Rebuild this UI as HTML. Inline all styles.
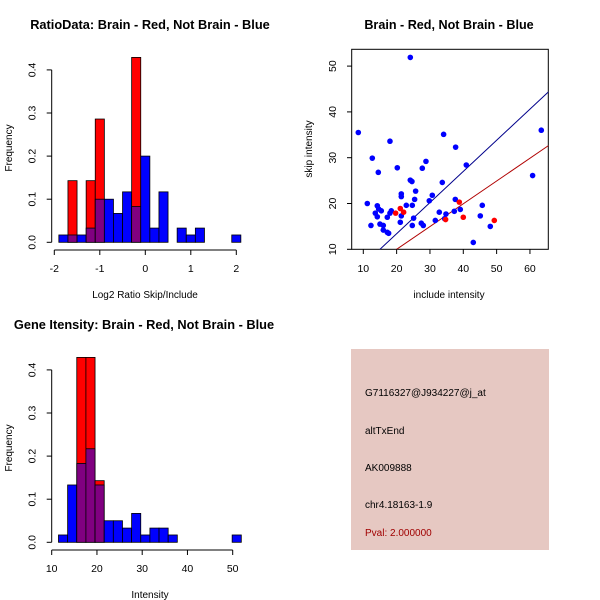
<!DOCTYPE html>
<html><head><meta charset="utf-8"><style>
body{margin:0;background:#fff}
svg{display:block;font-family:"Liberation Sans",sans-serif}
</style></head><body>
<svg id="c" width="600" height="600" xmlns="http://www.w3.org/2000/svg">
<rect x="0" y="0" width="600" height="600" fill="#fff"/>
<text x="150" y="29" text-anchor="middle" font-size="12.8" font-weight="bold">RatioData: Brain - Red, Not Brain - Blue</text>
<text x="449" y="29" text-anchor="middle" font-size="12.6" font-weight="bold">Brain - Red, Not Brain - Blue</text>
<text x="144" y="329" text-anchor="middle" font-size="12.8" font-weight="bold">Gene Itensity: Brain - Red, Not Brain - Blue</text>
<text x="145" y="298" text-anchor="middle" font-size="10">Log2 Ratio Skip/Include</text>
<text x="449" y="298" text-anchor="middle" font-size="10">include intensity</text>
<text x="150" y="598" text-anchor="middle" font-size="10">Intensity</text>
<text transform="translate(12,148) rotate(-90)" text-anchor="middle" font-size="10">Frequency</text>
<text transform="translate(312,149) rotate(-90)" text-anchor="middle" font-size="10">skip intensity</text>
<text transform="translate(12,448) rotate(-90)" text-anchor="middle" font-size="10">Frequency</text>
<rect x="351" y="349" width="198" height="201" fill="#e6c8c2"/>
<text x="365" y="396" font-size="10">G7116327@J934227@j_at</text>
<text x="365" y="434" font-size="10">altTxEnd</text>
<text x="365" y="471" font-size="10">AK009888</text>
<text x="365" y="508" font-size="10">chr4.18163-1.9</text>
<text x="365" y="536" font-size="10" fill="#a00000">Pval: 2.000000</text>
<g id="g"></g>
</svg>
<script>
// Ratio histogram data (bins width 0.2 starting -1.9)
const ratioStart = -1.9, ratioWidth = 0.2;
const ratioBlue = [0.017,0.017,0.017,0.033,0.1,0.1,0.067,0.117,0.083,0.2,0.033,0.117,0,0.033,0.017,0.033,0,0,0,0.017];
const ratioRed  = [0,0.143,0,0.143,0.286,0,0,0,0.429,0,0,0,0,0,0,0,0,0,0,0];
const ratioXTicks = [-2,-1,0,1,2];
const freqTicks = [0,0.1,0.2,0.3,0.4];
// Intensity histogram
const intStart = 11.5, intWidth = 2.02;
const intBlue = [0.017,0.133,0.183,0.217,0.133,0.05,0.05,0.033,0.067,0.017,0.033,0.033,0.017,0,0,0,0,0,0,0.017];
const intRed  = [0,0,0.429,0.429,0.143,0,0,0,0,0,0,0,0,0,0,0,0,0,0,0];
const intXTicks = [10,20,30,40,50];
// Scatter
const blueX = [8.5,11.2,12.3,12.7,13.6,14.2,14.5,14.2,14.6,15,15.4,16,16,17.2,17.6,17.2,18,18.4,18,20.2,21.1,21.4,21.4,21.4,22.9,24.1,24.1,24.6,24.7,24.7,25.1,25.4,25.7,27.4,27.7,28,28.8,29.8,30.7,31.6,32.8,33.7,34.1,34.8,34.4,37.3,37.7,37.6,39.1,40.9,43,45.1,45.7,48.1,60.8,63.4];
const blueY = [35.5,20,15.2,29.9,17.9,19.5,26.8,17.1,18.8,15.5,18.4,15.2,14.2,13.7,13.5,17,33.6,18.4,17.9,27.8,15.9,22.1,21.5,17.3,19.6,51.9,25.1,24.8,19.6,15.2,16.8,20.9,22.7,15.7,27.7,15.2,29.2,20.6,21.8,16.3,18.1,24.6,35.1,17.7,16.7,18.3,32.3,20.9,18.7,28.4,11.5,17.3,19.6,15,26.1,36];
const redX = [19.7,21.1,22.1,34.7,38.8,40,49.3];
const redY = [17.9,18.9,18.1,16.5,20.3,17,16.3];
const blueFit = [-0.2, 0.68];   // intercept, slope
const redFit = [0.06, 0.497];
const scXTicks = [10,20,30,40,50,60];
const scYTicks = [10,20,30,40,50];

const NS="http://www.w3.org/2000/svg", G=document.getElementById('g');
function mk(t,a,p){const e=document.createElementNS(NS,t);for(const k in a)e.setAttribute(k,a[k]);(p||G).appendChild(e);return e;}

function hist(name,start,w,blue,red,xticks,x0px,xPer,y0px,yPer,axisY,yAxisX){
  const X=v=>x0px+v*xPer, Y=v=>y0px-v*yPer;
  const g=mk('g',{});
  
  
  blue.forEach((b,i)=>{
    const r=red[i], a=start+i*w, L=X(a), R=X(a+w);
    const mn=Math.min(b,r), mx=Math.max(b,r);
    if(mx<=0)return;
    const col=b>=r?'#0000ff':'#ff0000';
    const e=mk('rect',{x:L,y:Y(mx),width:R-L,height:Y(0)-Y(mx),fill:col,stroke:'#000','stroke-width':0.8},g);
    
    
    if(mn>0){const p=mk('rect',{x:L,y:Y(mn),width:R-L,height:Y(0)-Y(mn),fill:'#800080',stroke:'#000','stroke-width':0.8},g);
      
      }
  });
  mk('line',{x1:X(xticks[0]),x2:X(xticks[xticks.length-1]),y1:axisY,y2:axisY,stroke:'#000'},g);
  xticks.forEach(t=>{mk('line',{x1:X(t),x2:X(t),y1:axisY,y2:axisY+5,stroke:'#000'},g);
    const tx=mk('text',{x:X(t),y:axisY+22,'text-anchor':'middle','font-size':10.5},g);tx.textContent=t;
    
    });
  mk('line',{x1:yAxisX,x2:yAxisX,y1:Y(0),y2:Y(0.4),stroke:'#000'},g);
  freqTicks.forEach(t=>{mk('line',{x1:yAxisX,x2:yAxisX-5,y1:Y(t),y2:Y(t),stroke:'#000'},g);
    const tx=mk('text',{transform:`translate(${yAxisX-16},${Y(t)}) rotate(-90)`,'text-anchor':'middle','font-size':10.5},g);tx.textContent=t.toFixed(1);
    
    });
}
hist('ratio-histogram',ratioStart,ratioWidth,ratioBlue,ratioRed,ratioXTicks,145.3,45.5,242.3,431,250,51.7);
hist('intensity-histogram',intStart,intWidth,intBlue,intRed,intXTicks,51.7-10*4.525,4.525,542.3,431,550,51.7);

// scatter
(function(){
  const X=v=>363.3+(v-10)*3.333, Y=v=>249.3-(v-10)*4.58;
  const g=mk('g',{});
  
  
  const cp=mk('clipPath',{id:'cp'},g);mk('rect',{x:351.7,y:49.3,width:196.6,height:200},cp);
  mk('rect',{x:351.7,y:49.3,width:196.6,height:200,fill:'none',stroke:'#000'},g);
  const xs=[5,66];
  [[blueFit,'#00008b','blue-fit-line'],[redFit,'#b00000','red-fit-line']].forEach(([f,c,n])=>{
    const l=mk('line',{x1:X(xs[0]),y1:Y(f[0]+f[1]*xs[0]),x2:X(xs[1]),y2:Y(f[0]+f[1]*xs[1]),stroke:c,'stroke-width':1,'clip-path':'url(#cp)'},g);
    
    
  });
  blueX.forEach((x,i)=>{const c=mk('circle',{cx:X(x),cy:Y(blueY[i]),r:2.8,fill:'#0000ff'},g);
    
    });
  redX.forEach((x,i)=>{const c=mk('circle',{cx:X(x),cy:Y(redY[i]),r:2.8,fill:'#ff0000'},g);
    
    });
  scXTicks.forEach(t=>{mk('line',{x1:X(t),x2:X(t),y1:249.3,y2:254,stroke:'#000'},g);
    const tx=mk('text',{x:X(t),y:272,'text-anchor':'middle','font-size':10.5},g);tx.textContent=t;
    
    });
  scYTicks.forEach(t=>{mk('line',{x1:351.7,x2:347,y1:Y(t),y2:Y(t),stroke:'#000'},g);
    const tx=mk('text',{transform:`translate(336,${Y(t)}) rotate(-90)`,'text-anchor':'middle','font-size':10.5},g);tx.textContent=t;
    
    });
})();
</script>
</body></html>
